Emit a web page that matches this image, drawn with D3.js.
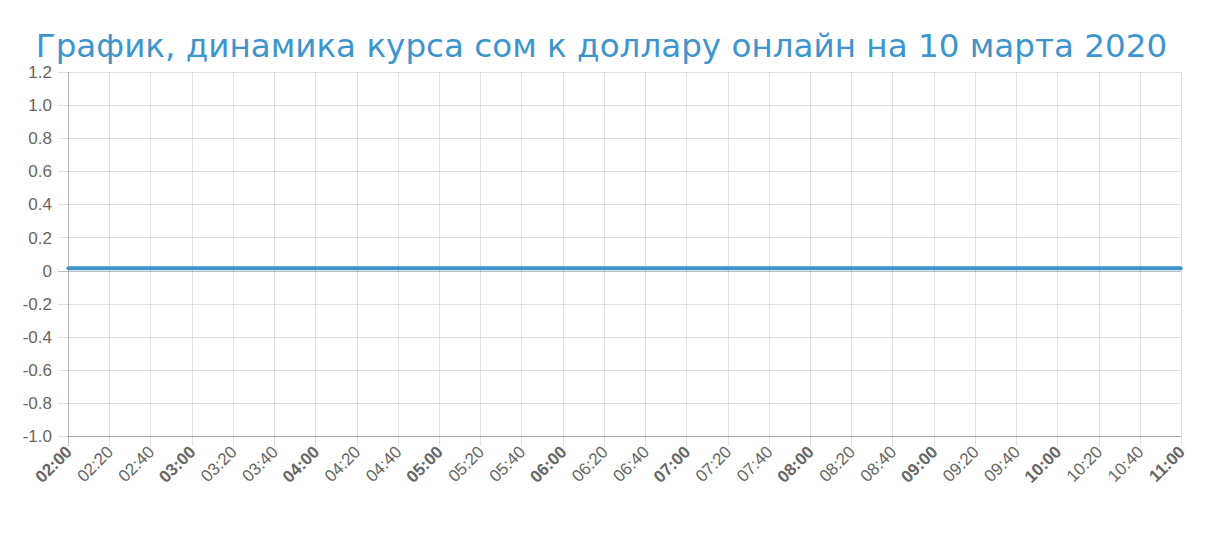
<!DOCTYPE html>
<html>
<head>
<meta charset="utf-8">
<script src="https://cdn.jsdelivr.net/npm/d3@7"></script>
<style>
  body { margin: 0; background: #fff; }
  #chart svg { display: block; }
</style>
</head>
<body>
<div id="chart"></div>
<script>
const title = 'График, динамика курса сом к доллару онлайн на 10 марта 2020';
// time of each reading (every 20 minutes) and KGS -> USD rate
const times = ['02:00', '02:20', '02:40', '03:00', '03:20', '03:40', '04:00', '04:20', '04:40',
    '05:00', '05:20', '05:40', '06:00', '06:20', '06:40', '07:00', '07:20', '07:40',
    '08:00', '08:20', '08:40', '09:00', '09:20', '09:40', '10:00', '10:20', '10:40', '11:00'];
const rates = [0.01395, 0.01395, 0.01392, 0.0139, 0.0139, 0.0139, 0.0139, 0.0139, 0.0139,
    0.0139, 0.0139, 0.0139, 0.0139, 0.0139, 0.0139, 0.0139, 0.0139, 0.0139,
    0.0139, 0.0139, 0.0139, 0.0139, 0.0139, 0.0139, 0.0139, 0.0139, 0.01395, 0.01395];
const yTicks = [1.2, 1.0, 0.8, 0.6, 0.4, 0.2, 0, -0.2, -0.4, -0.6, -0.8, -1.0];

const width = 1215;
const height = 533;
const margin = { top: 72, right: 34, bottom: 97, left: 68 };

const parseTime = d3.timeParse('%Y-%m-%d %H:%M');
const data = times.map((t, i) => ({ date: parseTime('2020-03-10 ' + t), value: rates[i] }));

const svg = d3.select('#chart')
    .append('svg')
    .attr('width', width)
    .attr('height', height);

svg.append('text')
    .attr('x', width / 2 - 6)
    .attr('y', 57)
    .attr('text-anchor', 'middle')
    .attr('font-family', 'DejaVu Sans, sans-serif')
    .attr('font-size', 32.6)
    .attr('fill', '#3e95cd')
    .text(title);

const innerW = width - margin.left - margin.right;
const innerH = height - margin.top - margin.bottom;

const g = svg.append('g')
    .attr('transform', `translate(${margin.left},${margin.top})`);

const x = d3.scaleTime()
    .domain(d3.extent(data, d => d.date))
    .range([0, innerW]);

const y = d3.scaleLinear()
    .domain([-1.0, 1.2])
    .range([innerH, 0]);

const xTickValues = data.map(d => d.date);

// horizontal grid
g.append('g')
    .selectAll('line')
    .data(yTicks)
    .enter()
    .append('line')
    .attr('x1', -10)
    .attr('x2', innerW)
    .attr('y1', d => Math.round(y(d)) + 0.5)
    .attr('y2', d => Math.round(y(d)) + 0.5)
    .attr('stroke', d => (d === 0 ? 'rgba(0,0,0,0.25)' : 'rgba(0,0,0,0.12)'));

// vertical grid
g.append('g')
    .selectAll('line')
    .data(xTickValues)
    .enter()
    .append('line')
    .attr('x1', d => Math.round(x(d)) + 0.5)
    .attr('x2', d => Math.round(x(d)) + 0.5)
    .attr('y1', 0)
    .attr('y2', innerH + 10)
    .attr('stroke', (d, i) => (i === 0 ? 'rgba(0,0,0,0.25)' : 'rgba(0,0,0,0.12)'));

// axis border at bottom
g.append('line')
    .attr('x1', 0)
    .attr('x2', innerW)
    .attr('y1', innerH + 0.5)
    .attr('y2', innerH + 0.5)
    .attr('stroke', 'rgba(0,0,0,0.25)');

// y tick labels
g.append('g')
    .selectAll('text')
    .data(yTicks)
    .enter()
    .append('text')
    .attr('x', -16)
    .attr('y', d => y(d))
    .attr('dy', '0.36em')
    .attr('text-anchor', 'end')
    .attr('font-family', 'Liberation Sans, Arial, sans-serif')
    .attr('font-size', 17)
    .attr('fill', '#666')
    .text(d => (d === 0 ? '0' : d.toFixed(1)));

// x tick labels, rotated
const fmt = d3.timeFormat('%H:%M');
g.append('g')
    .selectAll('text')
    .data(xTickValues)
    .enter()
    .append('text')
    .attr('transform', d => `translate(${x(d) + 5},${innerH + 17}) rotate(-45)`)
    .attr('text-anchor', 'end')
    .attr('font-family', 'Liberation Sans, Arial, sans-serif')
    .attr('font-size', 17)
    .attr('font-weight', d => (d.getMinutes() === 0 ? 'bold' : 'normal'))
    .attr('fill', '#666')
    .text(d => fmt(d));

// rate line
const line = d3.line()
    .x(d => x(d.date))
    .y(d => y(d.value));

g.append('path')
    .datum(data)
    .attr('fill', 'none')
    .attr('stroke', '#3e95cd')
    .attr('stroke-width', 4)
    .attr('d', line);

g.selectAll('.pt')
    .data(data)
    .enter()
    .append('circle')
    .attr('class', 'pt')
    .attr('cx', d => x(d.date))
    .attr('cy', d => y(d.value))
    .attr('r', 1.5)
    .attr('fill', '#3e95cd')
    .attr('stroke', 'rgba(62,149,205,0.4)');
</script>
</body>
</html>
